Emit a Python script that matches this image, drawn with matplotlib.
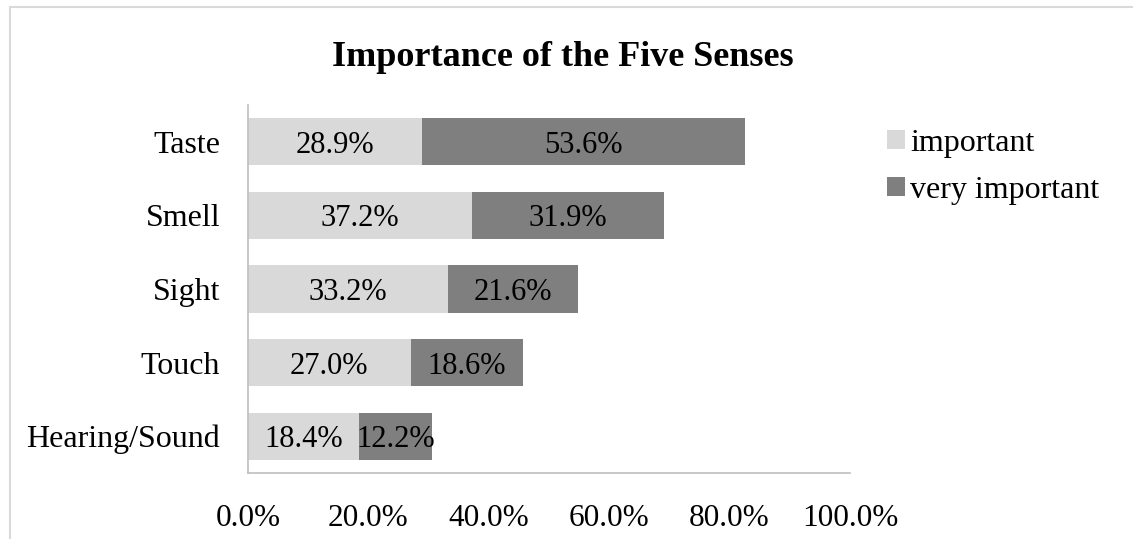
import matplotlib
matplotlib.use("Agg")
import matplotlib.pyplot as plt
from matplotlib.lines import Line2D
import numpy as np

categories = ["Taste", "Smell", "Sight", "Touch", "Hearing/Sound"]
important = [28.9, 37.2, 33.2, 27.0, 18.4]
very_important = [53.6, 31.9, 21.6, 18.6, 12.2]
series_names = ["important", "very important"]
xticks = [0, 20, 40, 60, 80, 100]
xtick_labels = ["0.0%", "20.0%", "40.0%", "60.0%", "80.0%", "100.0%"]
title = "Importance of the Five Senses"

plt.rcParams["font.family"] = ["Liberation Serif", "DejaVu Serif"]

W, H = 1133, 539
fig = plt.figure(figsize=(W / 100, H / 100), dpi=100)

# chart frame (left and top edges)
frame_col = "#D9D9D9"
fig.add_artist(Line2D([10 / W, 10 / W], [0, 1 - 7 / H], transform=fig.transFigure,
                      color=frame_col, lw=1.5))
fig.add_artist(Line2D([10 / W, 1], [1 - 7 / H, 1 - 7 / H], transform=fig.transFigure,
                      color=frame_col, lw=1.5))

ax = fig.add_axes([248 / W, 66 / H, (850 - 248) / W, (473 - 105) / H])

light = "#D9D9D9"
dark = "#7F7F7F"
y = np.arange(len(categories))
bh = 0.64
b1 = ax.barh(y, important, height=bh, color=light, label=series_names[0])
b2 = ax.barh(y, very_important, left=important, height=bh, color=dark,
             label=series_names[1])

for i in range(len(categories)):
    ax.text(important[i] / 2, y[i], f"{important[i]:.1f}%", ha="center",
            va="center_baseline", fontsize=22, color="black")
    ax.text(important[i] + very_important[i] / 2, y[i], f"{very_important[i]:.1f}%",
            ha="center", va="center_baseline", fontsize=22, color="black")

ax.set_xlim(0, 100)
ax.set_ylim(len(categories) - 0.5, -0.5)
ax.set_yticks(y)
ax.set_yticklabels(categories, fontsize=23)
ax.set_xticks(xticks)
ax.set_xticklabels(xtick_labels, fontsize=22.5)
ax.tick_params(axis="both", length=0)
ax.tick_params(axis="x", pad=22)
ax.tick_params(axis="y", pad=20)

for s in ["top", "right"]:
    ax.spines[s].set_visible(False)
for s in ["left", "bottom"]:
    ax.spines[s].set_color("#BFBFBF")
    ax.spines[s].set_linewidth(1.2)

fig.text(563 / W, 1 - 57 / H, title, ha="center", va="center",
         fontsize=26, fontweight="bold")

fig.legend(handles=[b1, b2], labels=series_names, loc="upper left",
           bbox_to_anchor=(887 / W, 1 - 129 / H), frameon=False, fontsize=23,
           handlelength=0.55, handleheight=0.55, handletextpad=0.18,
           labelspacing=0.55, borderaxespad=0, borderpad=0)

fig.savefig("out.png", dpi=100)
